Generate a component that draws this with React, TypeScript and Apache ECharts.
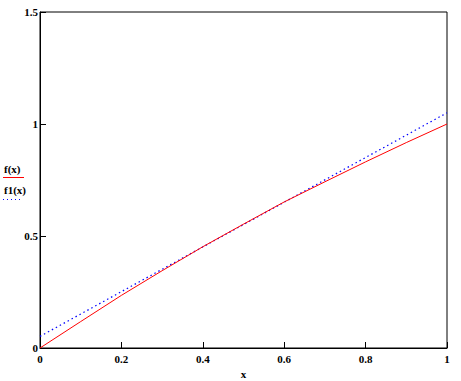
import React, { useEffect, useRef } from "react";
import * as echarts from "echarts";

const xValues = [0, 0.1, 0.2, 0.3, 0.4, 0.5, 0.6, 0.7, 0.8, 0.9, 1.0];
const fValues = [0, 0.118, 0.235, 0.345, 0.452, 0.553, 0.652, 0.742, 0.831, 0.917, 1.0];
const f1X = [0, 1];
const f1Values = [0.052, 1.05];
const xTicks = [0, 0.2, 0.4, 0.6, 0.8, 1];
const yTicks = [0, 0.5, 1, 1.5];
const legendLabels = ["f(x)", "f1(x)"];
const xName = "x";

const FONT = "'Liberation Serif', 'DejaVu Serif', serif";

export default function App() {
  const ref = useRef<HTMLDivElement>(null);
  useEffect(() => {
    if (!ref.current) return;
    const chart = echarts.init(ref.current, undefined, { renderer: "svg" });
    const labelStyle = { fontFamily: FONT, fontWeight: "bold" as const, fontSize: 11, color: "#000" };
    chart.setOption({
      animation: false,
      backgroundColor: "#fff",
      grid: {
        left: 40, right: 14, top: 12, bottom: 33,
        show: true, borderColor: "#000", borderWidth: 1,
        containLabel: false, outerBoundsMode: "none",
      },
      xAxis: {
        type: "value",
        min: xTicks[0],
        max: xTicks[xTicks.length - 1],
        interval: 0.2,
        name: xName,
        nameLocation: "middle",
        nameGap: 20,
        nameTextStyle: { ...labelStyle },
        axisLine: { lineStyle: { color: "#000", width: 1 } },
        axisTick: { inside: true, length: 6, lineStyle: { color: "#000" } },
        axisLabel: { ...labelStyle, margin: 5, formatter: (v: number) => String(+v.toFixed(1)) },
        splitLine: { show: false },
      },
      yAxis: {
        type: "value",
        min: yTicks[0],
        max: yTicks[yTicks.length - 1],
        interval: 0.5,
        axisLine: { show: true, lineStyle: { color: "#000", width: 1 } },
        axisTick: { show: true, inside: true, length: 6, lineStyle: { color: "#000" } },
        axisLabel: { ...labelStyle, margin: 2, formatter: (v: number) => String(+v.toFixed(1)) },
        splitLine: { show: false },
      },
      series: [
        {
          name: legendLabels[1],
          type: "line",
          data: f1X.map((x, i) => [x, f1Values[i]]),
          showSymbol: false,
          lineStyle: { color: "#0000ff", width: 1.2, type: [1.5, 3] },
          z: 3,
        },
        {
          name: legendLabels[0],
          type: "line",
          data: xValues.map((x, i) => [x, fValues[i]]),
          showSymbol: false,
          lineStyle: { color: "#ff0000", width: 1 },
          z: 4,
        },
      ],
      graphic: [
        { type: "text", left: 4, top: 163, style: { text: legendLabels[0], font: `bold 11px ${FONT}`, fill: "#000" } },
        { type: "line", shape: { x1: 3, y1: 177.5, x2: 24, y2: 177.5 }, style: { stroke: "#ff0000", lineWidth: 1 } },
        { type: "text", left: 4, top: 184, style: { text: legendLabels[1], font: `bold 11px ${FONT}`, fill: "#000" } },
        { type: "line", shape: { x1: 3, y1: 199.5, x2: 21, y2: 199.5 }, style: { stroke: "#0000ff", lineWidth: 1, lineDash: [1, 3] } },
      ],
    });
    return () => chart.dispose();
  }, []);
  return <div ref={ref} style={{ position: "fixed", left: 0, top: 0, width: 461, height: 381 }} />;
}
